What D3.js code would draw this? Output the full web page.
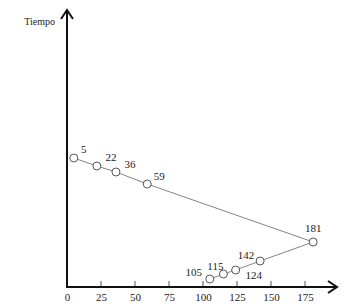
<!DOCTYPE html>
<html><head><meta charset="utf-8">
<script src="https://cdn.jsdelivr.net/npm/d3@7"></script>
<style>body{margin:0;background:#fff}svg{display:block}</style>
</head><body>
<svg id="c" width="346" height="306"></svg>
<script>
const cylinders = [5, 22, 36, 59, 181, 142, 124, 115, 105];
const times = [129, 121, 115, 103, 45, 26, 17, 13, 8];
const xTicks = [0, 25, 50, 75, 100, 125, 150, 175];
const yLabel = "Tiempo";
// label offsets per point (dx, dy) — placement only
const labelPos = [[10,-9],[14,-9],[14,-8],[12,-8],[0,-14],[-14,-6],[18,5],[-8,-8],[-16,-7]];

const svg = d3.select("#c");
const x = d3.scaleLinear().domain([0, 175]).range([67, 305]);
const y = d3.scaleLinear().domain([0, 100]).range([287, 187]);
const font = "'Liberation Serif', 'DejaVu Serif', serif";

// axes
const ax = svg.append("g").attr("transform", `translate(0,${y(0)})`)
  .call(d3.axisBottom(x).tickValues(xTicks).tickSize(0).tickPadding(6));
ax.select(".domain").remove();
ax.selectAll("text").attr("font-family", font).attr("font-size", 11).attr("fill", "#222");
ax.selectAll(".tk").data(xTicks.filter(d => d > 0)).enter().append("line")
  .attr("x1", d => x(d)).attr("x2", d => x(d)).attr("y1", 0).attr("y2", -6)
  .attr("stroke", "#555").attr("stroke-width", 1);

svg.append("line").attr("x1", x(0)).attr("x2", 336).attr("y1", y(0)).attr("y2", y(0))
  .attr("stroke", "#111").attr("stroke-width", 2);
svg.append("path").attr("d", `M328,${y(0)-6} L337,${y(0)} L328,${y(0)+6}`)
  .attr("fill", "none").attr("stroke", "#111").attr("stroke-width", 2);
svg.append("line").attr("x1", x(0)).attr("x2", x(0)).attr("y1", y(0)+1).attr("y2", 11)
  .attr("stroke", "#111").attr("stroke-width", 2);
svg.append("path").attr("d", `M${x(0)-6},19 L${x(0)},10 L${x(0)+6},19`)
  .attr("fill", "none").attr("stroke", "#111").attr("stroke-width", 2);
svg.append("text").attr("x", 55).attr("y", 25).attr("text-anchor", "end")
  .attr("font-family", font).attr("font-size", 10).attr("fill", "#222").text(yLabel);

const data = cylinders.map((c, i) => ({c, t: times[i], l: labelPos[i]}));
svg.append("path").datum(data)
  .attr("d", d3.line().x(d => x(d.c)).y(d => y(d.t)))
  .attr("fill", "none").attr("stroke", "#666").attr("stroke-width", 0.8);
svg.selectAll("circle").data(data).enter().append("circle")
  .attr("cx", d => x(d.c)).attr("cy", d => y(d.t)).attr("r", 4)
  .attr("fill", "#fff").attr("stroke", "#555").attr("stroke-width", 1);
svg.selectAll(".lbl").data(data).enter().append("text")
  .attr("x", d => x(d.c) + d.l[0]).attr("y", d => y(d.t) + d.l[1])
  .attr("text-anchor", "middle").attr("dy", "0.35em")
  .attr("font-family", font).attr("font-size", 11).attr("fill", "#222")
  .text(d => d.c);
</script>
</body></html>
